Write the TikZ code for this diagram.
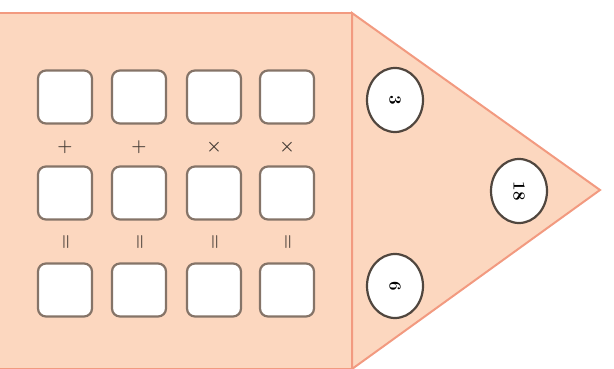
\documentclass[tikz,border=0pt]{standalone}
\usepackage{amsmath}
\usepackage{tikz}
\usetikzlibrary{positioning,shapes,calc}

\definecolor{housefill}{HTML}{FCD7BF}
\definecolor{houseline}{HTML}{F29A80}
\definecolor{boxline}{HTML}{857468}

\tikzset{
  cell/.style={draw=boxline,fill=white,line width=2.2pt,rounded corners=8pt,
    minimum width=54pt,minimum height=53pt},
  roofnum/.style={ellipse,draw=boxline!60!black,fill=white,line width=2.2pt,
    minimum width=56pt,minimum height=64pt,inner sep=0pt,font=\fontsize{17}{17}\selectfont\bfseries},
  sign/.style={text=boxline!50!black,font=\LARGE\boldmath,inner sep=0pt}
}

\begin{document}
\begin{tikzpicture}[x=1pt,y=-1pt,line width=2pt]

      \useasboundingbox (0,0) rectangle (614,369);

      \draw[draw=houseline,fill=housefill] (0,13) -- (352,13) -- (352,369) -- (0,369);
      \draw[draw=houseline,fill=housefill] (352,13) -- (600,190) -- (352,369) -- cycle;

      \foreach \c/\x in {1/65,2/139,3/214,4/287} {
        \node[cell] (top\c) at (\x,97) {};
        \node[cell] (mid\c) at (\x,193) {};
        \node[cell] (low\c) at (\x,290) {};
      }

      \node[sign] (op1) at (65,147) {$+$};
      \node[sign] (op2) at (139,147) {$+$};
      \node[sign] (op3) at (214,147) {$\times$};
      \node[sign] (op4) at (287,147) {$\times$};

      \foreach \c/\x in {1/65,2/139,3/214,4/287}
        \node[sign,rotate=-90] (eq\c) at (\x,242) {$=$};

      \node[roofnum] (left) at (395,100) {\rotatebox{-90}{3}};
      \node[roofnum] (apex) at (519,191) {\rotatebox{-90}{18}};
      \node[roofnum] (right) at (395,286) {\rotatebox{-90}{6}};

    \end{tikzpicture}
\end{document}
